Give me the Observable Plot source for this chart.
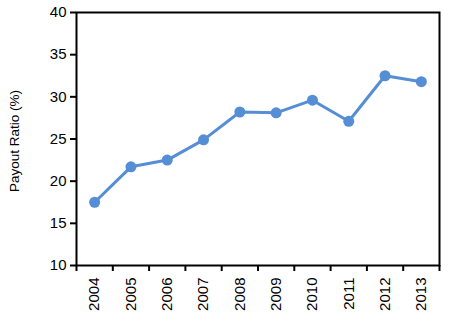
<!DOCTYPE html>
<html>
<head>
<meta charset="utf-8">
<script src="https://cdn.jsdelivr.net/npm/d3@7"></script>
<script src="https://cdn.jsdelivr.net/npm/@observablehq/plot@0.6"></script>
<style>
  body { margin: 0; background: #fff; }
  #chart svg { display: block; }
</style>
</head>
<body>
<div id="chart"></div>
<script>
const years = [2004, 2005, 2006, 2007, 2008, 2009, 2010, 2011, 2012, 2013];
const payout = [17.5, 21.7, 22.5, 24.9, 28.2, 28.1, 29.6, 27.1, 32.5, 31.8];
const yTicks = [10, 15, 20, 25, 30, 35, 40];
const yLabel = "Payout Ratio (%)";

const data = years.map((y, i) => ({year: y, value: payout[i]}));
const bounds = years.map(y => y - 0.5).concat([years[years.length - 1] + 0.5]);
const color = "#558ED5";
const font = "Liberation Sans, Arial, sans-serif";

const chart = Plot.plot({
  width: 449,
  height: 321,
  marginLeft: 76,
  marginTop: 12,
  marginRight: 10,
  marginBottom: 56,
  style: {fontFamily: font, fontSize: "15px", color: "#000", background: "#fff"},
  x: {domain: [bounds[0], bounds[bounds.length - 1]], axis: null},
  y: {domain: [10, 40], axis: null},
  marks: [
    Plot.axisY({ticks: yTicks, tickSize: 6, tickPadding: 4, tickFormat: d => String(d), label: null, strokeWidth: 2, fontSize: 15}),
    Plot.axisX({ticks: bounds, tickSize: 6, tickFormat: () => "", label: null, strokeWidth: 2}),
    Plot.axisX({ticks: years, tickSize: 0, tickPadding: 12, tickRotate: -90, tickFormat: d => String(d), label: null, fontSize: 15}),
    Plot.frame({stroke: "#000", strokeWidth: 2}),
    Plot.line(data, {x: "year", y: "value", stroke: color, strokeWidth: 3}),
    Plot.dot(data, {x: "year", y: "value", fill: color, r: 5.5}),
    Plot.text([yLabel], {frameAnchor: "left", textAnchor: "middle", rotate: -90, dx: -62, dy: 2, fontSize: 13.5, fill: "#000"})
  ]
});
document.getElementById("chart").appendChild(chart);
</script>
</body>
</html>
